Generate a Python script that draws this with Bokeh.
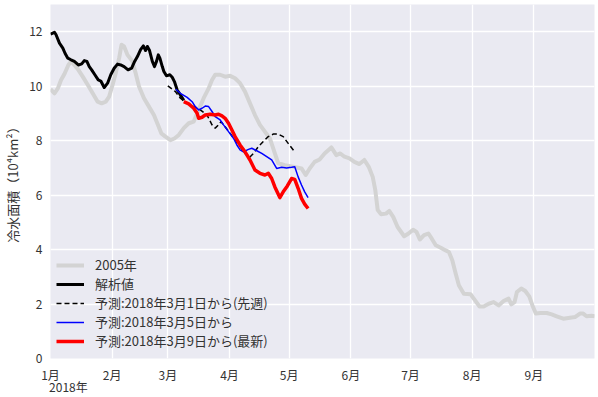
from bokeh.plotting import figure
from bokeh.models import FixedTicker, LinearAxis
from bokeh.embed import file_html
from bokeh.resources import INLINE

# x values: days since 2018-01-01
month_ticks = [0, 31, 59, 90, 120, 151, 181, 212, 243]
month_labels = ["1月", "2月", "3月", "4月", "5月", "6月", "7月", "8月", "9月"]
year_label = "2018年"
y_ticks = [0, 2, 4, 6, 8, 10, 12]

gray_day = [0, 2, 3.7, 5.3, 7, 9, 10.3, 12, 14, 16.2, 18.7, 21.2, 23.7, 25.7, 27.8, 29.5, 31.2, 32.8,
            34.5, 35.7, 37, 38.7, 41.2, 42.8, 44.5, 47, 49.5, 52, 54, 55.7, 57.8, 60.3, 62.3, 64.5, 67,
            69.5, 72, 74.5, 77, 79.5, 81.2, 82.8, 85.3, 87.8, 90.3, 92.8, 95.3, 97.8, 100.3, 102.8,
            105.3, 107.8, 110.3, 112.8, 114.5, 117.8, 122, 126.2, 128.3, 130.3, 132.8, 135.3, 137.8,
            141.2, 143.7, 145.7, 147.8, 150.3, 152.8, 155.3, 157.8, 160, 162, 163.3, 164.5, 166.2,
            168.7, 170.3, 172.3, 174.5, 177.8, 180, 182.3, 184, 185.7, 187.8, 190, 191.7, 193.7, 196.2,
            198.7, 200.3, 202, 203.7, 205.3, 207.8, 211.2, 212.8, 215.7, 217.8, 220.3, 222.8, 225.3,
            227.8, 230.3, 231.7, 233.3, 234.5, 236.7, 238.7, 240.7, 242.3, 244, 246.2, 249.5, 252,
            254.5, 257.8, 261.2, 263.7, 266.2, 267.8, 269.5, 272, 273.7]
gray_val = [9.89, 9.74, 9.92, 10.23, 10.45, 10.78, 10.91, 10.78, 10.6, 10.35, 10.05, 9.74, 9.43, 9.37,
            9.43, 9.62, 10.05, 10.48, 11.03, 11.52, 11.46, 11.15, 10.91, 10.48, 9.99, 9.56, 9.25, 8.94,
            8.58, 8.27, 8.15, 8.02, 8.08, 8.21, 8.46, 8.64, 8.70, 9.13, 9.56, 9.92, 10.23, 10.42, 10.42,
            10.35, 10.38, 10.29, 10.11, 9.8, 9.37, 8.94, 8.58, 8.33, 8.08, 7.53, 7.17, 7.10, 7.04, 6.98,
            6.74, 6.98, 7.22, 7.31, 7.53, 7.75, 7.47, 7.53, 7.41, 7.35, 7.22, 7.14, 7.29, 7.04, 6.67,
            6.18, 5.45, 5.30, 5.32, 5.42, 5.20, 4.83, 4.49, 4.59, 4.73, 4.65, 4.37, 4.53, 4.59, 4.40,
            4.16, 4.07, 3.97, 3.91, 3.61, 3.12, 2.69, 2.38, 2.36, 2.20, 1.91, 1.91, 2.01, 2.07, 1.95,
            2.11, 2.20, 1.99, 2.07, 2.44, 2.57, 2.48, 2.28, 1.95, 1.65, 1.67, 1.67, 1.62, 1.55, 1.46,
            1.50, 1.52, 1.65, 1.65, 1.55, 1.57, 1.55]

anal_day = [0, 2, 2.8, 4.5, 6.2, 7.3, 8.7, 10.3, 12, 14, 15.7, 17, 18.3, 19.5, 20.7, 22.3, 24, 25.3,
            27, 28.7, 30.3, 32, 33.7, 35.3, 37, 39, 40.8, 42.3, 43.7, 45.3, 46.7, 47.8, 48.7, 49.8,
            51.2, 52.3, 53.3, 54.2, 55, 56.2, 57, 58.3, 60, 61.2, 62.3, 63.7, 65.3, 67]
anal_val = [11.91, 11.98, 11.89, 11.58, 11.40, 11.21, 11.03, 10.97, 10.91, 10.78, 10.82, 10.94, 10.91,
            10.72, 10.6, 10.42, 10.23, 10.19, 9.95, 10.11, 10.42, 10.66, 10.81, 10.78, 10.72, 10.6,
            10.66, 10.91, 11.09, 11.34, 11.48, 11.31, 11.46, 11.31, 10.91, 10.72, 10.91, 11.15, 11.03,
            10.72, 10.54, 10.38, 10.42, 10.33, 10.17, 9.86, 9.68, 9.48]

f0301_day = [59, 62.8, 65.3, 68.7, 72, 75.3, 78.7, 81.2, 82.8, 84.5, 85.7, 87.8, 90.3, 92.8, 95.3,
             97.8, 100, 102, 104.5, 107, 109.5, 112, 114.5, 117, 119.5, 122.8]
f0301_val = [10.01, 9.8, 9.56, 9.37, 9.25, 9.13, 8.94, 8.58, 8.46, 8.58, 8.70, 8.51, 8.27, 8.02, 7.78,
             7.53, 7.38, 7.53, 7.78, 7.97, 8.15, 8.24, 8.24, 8.15, 7.9, 7.59]

f0305_day = [63, 65.3, 68.7, 71.2, 72.8, 74.5, 76.2, 77.8, 79.5, 81.2, 82.8, 85.3, 87, 89.5, 92, 93.7,
             95.3, 97, 99.5, 101.2, 103.7, 106.2, 108.7, 111.2, 113.7, 116.2, 118.7, 121.2, 122.8,
             124.5, 126.2, 127.8, 129.5]
f0305_val = [9.89, 9.74, 9.59, 9.43, 9.25, 9.13, 9.19, 9.27, 9.25, 9.07, 8.88, 8.76, 8.58, 8.33, 8.09,
             7.84, 7.66, 7.59, 7.68, 7.72, 7.63, 7.53, 7.41, 7.29, 6.98, 7.02, 7.0, 7.02, 7.04, 6.67,
             6.37, 6.12, 5.91]

f0309_day = [67, 69.5, 72, 73.7, 74.5, 76.2, 77.8, 80.3, 82.8, 84.5, 86.2, 87.8, 89.5, 91.2, 92.8,
             95.3, 97.8, 100.3, 102.8, 105.3, 107.8, 109.5, 111.2, 112.8, 115.3, 117, 119, 121.2,
             122.8, 124.5, 126.2, 127.8, 129.5]
f0309_val = [9.43, 9.35, 9.19, 9.01, 8.82, 8.86, 8.94, 8.97, 8.94, 8.97, 8.91, 8.82, 8.64, 8.39, 8.15,
             7.84, 7.59, 7.29, 6.92, 6.80, 6.74, 6.80, 6.61, 6.30, 5.91, 6.12, 6.33, 6.61, 6.58, 6.25,
             5.88, 5.67, 5.51]

FONT = "Noto Sans CJK JP"
TXT = "#333333"

p = figure(width=598, height=397, x_range=(0, 273.5), y_range=(0, 13),
           output_backend="svg", toolbar_location=None,
           min_border_left=46, min_border_right=4, min_border_top=4, min_border_bottom=39)
p.background_fill_color = "#EAEAF2"
p.border_fill_color = "white"
p.outline_line_color = None

p.line(gray_day, gray_val, color="#D3D3D3", line_width=4, line_join="round", legend_label="2005年")
p.line(anal_day, anal_val, color="black", line_width=3, line_join="round", legend_label="解析値")
p.line(f0301_day, f0301_val, color="black", line_width=1.5, line_dash="5 3",
       legend_label="予測:2018年3月1日から(先週)")
p.line(f0305_day, f0305_val, color="blue", line_width=1.5, line_join="round",
       legend_label="予測:2018年3月5日から")
p.line(f0309_day, f0309_val, color="red", line_width=3.5, line_join="round",
       legend_label="予測:2018年3月9日から(最新)")

p.xaxis.ticker = FixedTicker(ticks=month_ticks)
p.xaxis.major_label_overrides = {t: l for t, l in zip(month_ticks, month_labels)}
p.yaxis.ticker = FixedTicker(ticks=y_ticks)

# year caption under the first month label (second bottom axis with one label)
year_axis = LinearAxis(ticker=FixedTicker(ticks=[9]), major_label_overrides={9: year_label})
p.add_layout(year_axis, "below")

for ax in (p.xaxis[0], p.yaxis[0], year_axis):
    ax.axis_line_color = None
    ax.major_tick_line_color = None
    ax.minor_tick_line_color = None
    ax.major_tick_out = 0
    ax.major_tick_in = 0
    ax.minor_tick_out = 0
    ax.minor_tick_in = 0
    ax.major_label_text_font = FONT
    ax.major_label_text_font_size = "12px"
    ax.major_label_text_color = TXT
p.xaxis[0].major_label_standoff = 7
year_axis.major_label_standoff = -8
p.yaxis.major_label_standoff = 8
p.yaxis.axis_label = "冷水面積（10⁴km²）"
p.yaxis.axis_label_text_font = FONT
p.yaxis.axis_label_text_font_size = "13px"
p.yaxis.axis_label_text_font_style = "normal"
p.yaxis.axis_label_text_color = TXT
p.yaxis.axis_label_standoff = 4

p.xgrid.grid_line_color = "white"
p.ygrid.grid_line_color = "white"
p.xgrid.grid_line_width = 1.3
p.ygrid.grid_line_width = 1.3

lg = p.legend[0]
lg.location = (6, 8)
lg.margin = 3
lg.padding = 7
lg.spacing = 0
lg.glyph_width = 28
lg.glyph_height = 16
lg.label_standoff = 11
lg.label_text_font = FONT
lg.label_text_font_size = "13px"
lg.label_text_color = TXT
lg.background_fill_alpha = 0
lg.border_line_color = None

open("out.html", "w").write(file_html(p, INLINE))
